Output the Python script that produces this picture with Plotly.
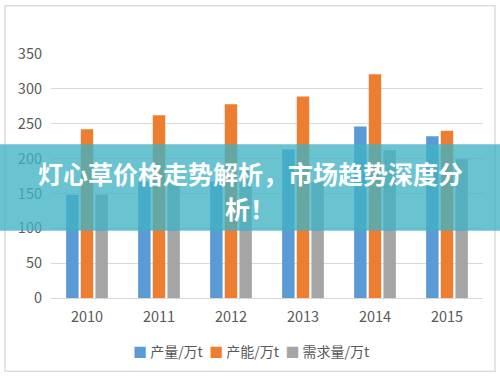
import plotly.graph_objects as go

years = ["2010", "2011", "2012", "2013", "2014", "2015"]
output_vals = [148, 167, 167, 213, 246, 232]
capacity_vals = [242, 262, 278, 289, 321, 240]
demand_vals = [148, 165, 182, 166, 212, 199]
series_names = ["产量/万t", "产能/万t", "需求量/万t"]
colors = ["#5B9BD5", "#ED7D31", "#A5A5A5"]
y_ticks = [0, 50, 100, 150, 200, 250, 300, 350]
banner_lines = ["灯心草价格走势解析，市场趋势深度分", "析！"]

W, H = 500, 377
L, R, T, B = 51, 17, 53.5, 78.5
pw, ph = W - L - R, H - T - B

def px_x(x):
    return (x - L) / pw

def px_y(y):
    return (H - B - y) / ph

font_family = "Noto Sans CJK SC, Microsoft YaHei, sans-serif"

fig = go.Figure()
for name, vals, c in zip(series_names, [output_vals, capacity_vals, demand_vals], colors):
    fig.add_trace(go.Bar(x=years, y=vals, name=name, marker=dict(color=c, line=dict(width=0))))

legend_html = "  ".join(
    f'<span style="color:{c}">■</span> {n}' for n, c in zip(series_names, colors)
)

fig.update_layout(
    width=W, height=H,
    margin=dict(l=L, r=R, t=T, b=B, pad=0),
    paper_bgcolor="white", plot_bgcolor="white",
    barmode="group", bargap=0.39, bargroupgap=0.15,
    font=dict(family=font_family, color="#595959", size=14),
    showlegend=False,
    xaxis=dict(showgrid=False, showline=False, ticks="", ticklabelstandoff=8,
               tickfont=dict(size=14.5, color="#595959")),
    yaxis=dict(range=[0, 350], tickvals=y_ticks, showgrid=True, gridcolor="#D9D9D9", gridwidth=1,
               zeroline=True, zerolinecolor="#D9D9D9", zerolinewidth=1, showline=False, ticks="",
               ticklabelstandoff=8, tickfont=dict(size=14.5, color="#595959")),
    shapes=[
        dict(type="rect", xref="paper", yref="paper", x0=px_x(5), x1=px_x(495), y0=px_y(372), y1=px_y(5),
             line=dict(color="#DDDDDD", width=1.5), fillcolor="rgba(0,0,0,0)", layer="below"),
        dict(type="rect", xref="paper", yref="paper", x0=px_x(0), x1=px_x(500), y0=px_y(231), y1=px_y(144),
             line=dict(width=0), fillcolor="rgba(64,178,196,0.78)", layer="above"),
    ],
    annotations=[
        dict(text=legend_html, xref="paper", yref="paper",
             x=px_x(251), y=px_y(352), xanchor="center", yanchor="middle", showarrow=False,
             font=dict(size=14, color="#595959", family=font_family)),
        dict(text=f"<b>{banner_lines[0]}</b>", xref="paper", yref="paper",
             x=px_x(250), y=px_y(173), xanchor="center", yanchor="middle", showarrow=False,
             font=dict(size=25, color="white", family=font_family)),
        dict(text=f"<b>{banner_lines[1]}</b>", xref="paper", yref="paper",
             x=px_x(250), y=px_y(208), xanchor="center", yanchor="middle", showarrow=False,
             font=dict(size=25, color="white", family=font_family)),
    ],
)

fig.write_html("out.html", config={"displayModeBar": False},
               post_script="document.body.style.margin='0';")
